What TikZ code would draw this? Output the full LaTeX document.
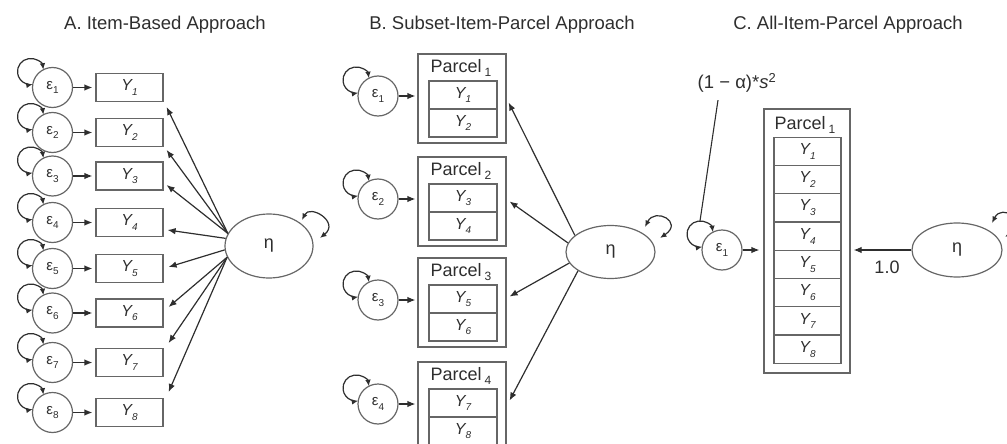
\documentclass[tikz,border=0pt]{standalone}
\usepackage{fontspec}
\setmainfont{Liberation Sans}
\usetikzlibrary{arrows.meta,shapes.geometric,calc}
\definecolor{ink}{HTML}{2E2E2E}
\definecolor{edge}{HTML}{666666}
\newcommand\sub[1]{\raisebox{-0.3em}{\fontsize{10}{10}\selectfont #1}}
\newcommand\psub[1]{\raisebox{-0.2em}{\fontsize{12}{12}\selectfont #1}}
\tikzset{
 every node/.style={text=ink},
 err/.style={circle, draw=edge, line width=1.2pt, minimum size=40pt, inner sep=0pt, font=\fontsize{15}{15}\selectfont},
 lat/.style={ellipse, draw=edge, line width=1.2pt, inner sep=0pt, font=\fontsize{18}{18}\selectfont},
 item/.style={rectangle, draw=edge, line width=1.2pt, minimum width=67pt, minimum height=28pt, inner sep=0pt, font=\fontsize{16}{16}\selectfont},
 outerbox/.style={rectangle, draw=edge, line width=1.2pt, inner sep=0pt},
 plab/.style={font=\fontsize{18}{18}\selectfont, inner sep=0pt},
 title/.style={font=\fontsize{18.5}{20}\selectfont},
 arr/.style={draw=ink, line width=1.2pt, -{Latex[length=8pt,width=6.5pt]}},
 dbl/.style={draw=ink, line width=1.2pt, {Latex[length=6.5pt,width=5.5pt]}-{Latex[length=6.5pt,width=5.5pt]}},
 plain/.style={draw=ink, line width=1.1pt},
}
\newcommand\errloop[1]{\draw[dbl] ($(#1.center)+(-9.13,17.81)$) arc[start angle=8,end angle=280,radius=13];}
\begin{document}
\begin{tikzpicture}[x=1pt,y=1pt]
\useasboundingbox (0,0) rectangle (1007,-444);
\clip (0,0) rectangle (1007,-444);

% titles
\node[title] (tA) at (165,-25) {A. Item-Based Approach};
\node[title] (tB) at (502,-25) {B. Subset-Item-Parcel Approach};
\node[title] (tC) at (848,-25) {C. All-Item-Parcel Approach};

% ---------- Panel A ----------
\foreach \i/\yy in {1/87.5,2/132.5,3/176,4/222.5,5/268.5,6/313,7/362.5,8/412.5}{
  \node[err] (a\i) at (52.5,-\yy) {ε\sub{\i}};
  \node[item] (ay\i) at (129.5,-\yy) {\textit{Y\sub{\i}}};
  \draw[arr, shorten >=3pt] (a\i) -- (ay\i);
  \errloop{a\i}
}
\node[lat, minimum width=88pt, minimum height=64pt] (etaA) at (269,-246) {η};
\foreach \i/\ang/\dx/\dy in {1/163/3/-19.5, 2/163/3/-17.5, 3/163/3/-9, 4/170/4/-7.5, 5/185/5/1.5, 6/195/5/6, 7/195/5/19.5, 8/195/5/20.5}{
  \draw[arr] (etaA.\ang) -- ($(ay\i.east)+(\dx,\dy)$);
}
\draw[dbl] ($(etaA.center)+(33,26)$) .. controls +(8,16) and +(20,16) .. ($(etaA.center)+(51,8)$);

% ---------- Panel B ----------
\foreach \k/\t/\ea/\eb in {1/54/1/2, 2/157/3/4, 3/258/5/6, 4/362/7/8}{
  \node[outerbox, minimum width=88pt, minimum height=89pt] (P\k) at (462,{-(\t+44.5)}) {};
  \node[plab] (P\k-lab) at (461,{-(\t+14)}) {Parcel\,\psub{\k}};
  \node[item, minimum width=68pt] (P\k-a) at (463,{-(\t+41)}) {\textit{Y\sub{\ea}}};
  \node[item, minimum width=68pt] (P\k-b) at (463,{-(\t+69)}) {\textit{Y\sub{\eb}}};
  \node[err] (b\k) at (378,{-(\t+42)}) {ε\sub{\k}};
  \draw[arr, shorten >=2pt] (b\k) -- (b\k -| P\k.west);
  \errloop{b\k}
}
\node[lat, minimum width=89pt, minimum height=53pt] (etaB) at (610.5,-252) {η};
\draw[arr] (etaB.155) -- ($(P1.east)+(2,-4)$);
\draw[arr] (etaB.168) -- ($(P2.east)+(3,0)$);
\draw[arr] (etaB.195) -- ($(P3.east)+(3,6)$);
\draw[arr] (etaB.210) -- ($(P4.east)+(3,6)$);
\draw[dbl] ($(etaB.center)+(34.5,25)$) .. controls +(10,20) and +(24,16) .. ($(etaB.center)+(49.5,14)$);

% ---------- Panel C ----------
\node[outerbox, minimum width=86pt, minimum height=264pt] (PC) at (807,-241) {};
\node[plab] (PC-lab) at (805,-125) {Parcel\,\psub{1}};
\foreach \k in {1,...,8}{
  \node[item, minimum height=28.25pt] (c\k) at (807.5,{-(151.4+28.25*(\k-1))}) {\textit{Y\sub{\k}}};
}
\node[err] (eC) at (722,-250) {ε\sub{1}};
\draw[arr, shorten >=4pt] (eC) -- (eC -| PC.west);
\errloop{eC}
\coordinate (looptop) at ($(eC.center)+(-22,29)$);
\node[font=\fontsize{18.5}{18.5}\selectfont] (alpha) at (737,-83) {(1 − α)*\textit{s}\textsuperscript{2}};
\draw[plain] ($(alpha.south)+(-19,-4)$) -- (looptop);
\node[lat, minimum width=90pt, minimum height=54pt] (etaC) at (957,-250) {η};
\draw[arr, shorten >=3pt] (etaC) -- (etaC -| PC.east);
\node[font=\fontsize{18}{18}\selectfont] (w) at (887,-267) {1.0};
\draw[dbl] ($(etaC.center)+(35,27)$) .. controls +(10,20) and +(24,16) .. ($(etaC.center)+(48,13)$);
\end{tikzpicture}
\end{document}
